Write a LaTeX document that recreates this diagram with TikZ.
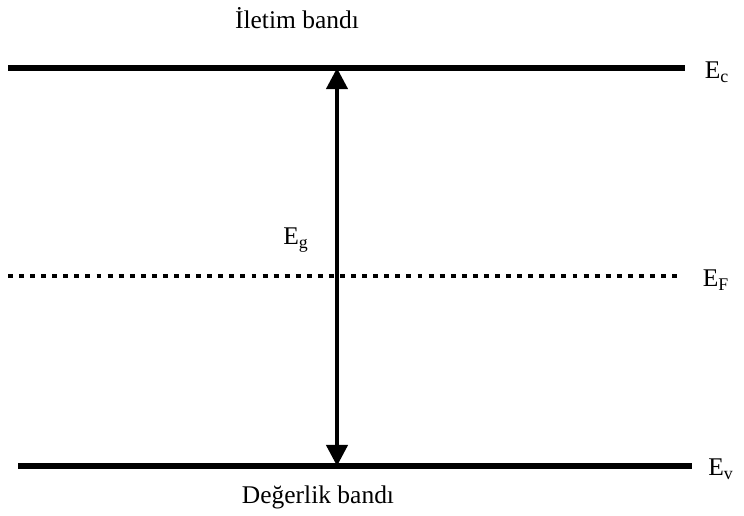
\documentclass[tikz,border=0pt]{standalone}
\usepackage{fontspec}
\setmainfont{Liberation Serif}
\usetikzlibrary{arrows.meta,positioning}

\tikzset{
  band/.style={line width=3pt},
  fermi/.style={line width=2.8pt, dash pattern=on 2.8pt off 3.5pt},
  gap/.style={line width=2.3pt, {Triangle[width=12pt,length=12pt]}-{Triangle[width=12pt,length=12pt]}},
  lbl/.style={font=\fontsize{14.5}{17}\selectfont, inner sep=0pt}
}

\begin{document}
\begin{tikzpicture}[x=0.02cm, y=-0.02cm]
    \useasboundingbox (0,0) rectangle (744,515);

    % band edges
    \coordinate (cl) at (8,68);   \coordinate (cr) at (685,68);
    \coordinate (fl) at (8,276);  \coordinate (fr) at (682,276);
    \coordinate (vl) at (18,466); \coordinate (vr) at (692,466);
    \draw[band] (cl) -- (cr);
    \draw[fermi] (fl) -- (fr);
    \draw[band] (vl) -- (vr);

    % band gap
    \coordinate (gtop) at (337,68);
    \coordinate (gbot) at (337,466);
    \draw[gap] (gbot) -- (gtop);

    % labels
    \node[lbl] (cband) at (297,18) {İletim bandı};
    \node[lbl] (vband) at (318,497) {Değerlik bandı};
    \node[lbl] (ec) at (717,72) {E\textsubscript{c}};
    \node[lbl] (ef) at (716,280) {E\textsubscript{F}};
    \node[lbl] (ev) at (721,469) {E\textsubscript{v}};
    \node[lbl] (eg) at (296,240) {E\textsubscript{g}};
\end{tikzpicture}
\end{document}
